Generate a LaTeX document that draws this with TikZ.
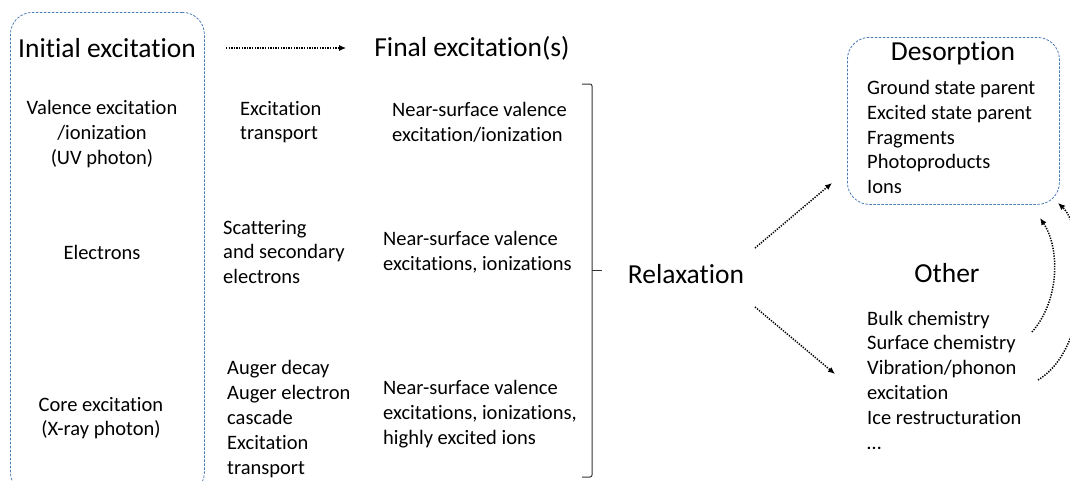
\documentclass[tikz,border=0pt]{standalone}
\usepackage{fontspec}
\setmainfont{Carlito}[RawFeature={-liga}]
\usetikzlibrary{arrows.meta}
\definecolor{boxblue}{RGB}{74,122,182}
\definecolor{brk}{RGB}{50,50,50}
\begin{document}
\begin{tikzpicture}[x=1pt,y=-1pt,
  txt/.style={inner sep=0pt, font=\fontsize{20.5}{24.8}\selectfont},
  ttl/.style={inner sep=0pt, font=\fontsize{27.5}{33}\selectfont},
  dbox/.style={draw=boxblue, dash pattern=on 2.5pt off 1.5pt, line width=0.8pt, rounded corners=22pt, inner sep=0pt},
  arr/.style={line width=1.5pt, dash pattern=on 1.3pt off 1.3pt, -{Latex[length=7pt,width=6pt]}},
]
\useasboundingbox (0,0) rectangle (1070,480);

% left box
\node[dbox, minimum width=194pt, minimum height=482pt, anchor=north west] (ibox) at (10,12) {};
\node[ttl] (ititle) at (107,48) {Initial excitation};
\node[txt, align=center] (valence) at (102,134) {Valence excitation\\/ionization\\(UV photon)};
\node[txt] (electrons) at (102,252) {Electrons};
\node[txt, align=center] (core) at (101,418) {Core excitation\\(X-ray photon)};

% final excitations
\node[ttl] (ftitle) at (472,48) {Final excitation(s)};
\draw[arr] ([xshift=30pt]ititle.east) -- ([xshift=-28pt]ftitle.west);

\node[txt, align=left, anchor=west] (trans) at (240,122) {Excitation\\transport};
\node[txt, align=left, anchor=west] (scat) at (223,252) {Scattering\\and secondary\\electrons};
\node[txt, align=left, anchor=west] (auger) at (227,419) {Auger decay\\Auger electron\\cascade\\Excitation\\transport};

\node[txt, align=left, anchor=west] (ns1) at (392,122) {Near-surface valence\\excitation/ionization};
\node[txt, align=left, anchor=west] (ns2) at (383,252) {Near-surface valence\\excitations, ionizations};
\node[txt, align=left, anchor=west] (ns3) at (383,414) {Near-surface valence\\excitations, ionizations,\\highly excited ions};

% bracket
\draw[brk, line width=1pt, rounded corners=2pt] (582,84) -- (592,84) -- (592,477) -- (582,477);
\draw[brk, line width=1pt] (592,270) -- (602,270);

\node[ttl] (relax) at (686,274) {Relaxation};

% desorption
\node[dbox, minimum width=212pt, minimum height=167pt, anchor=north west] (desbox) at (847,37) {};
\node[ttl] (destitle) at (953,53) {Desorption};
\node[txt, align=left, anchor=west] (desitems) at (867,137) {Ground state parent\\Excited state parent\\Fragments\\Photoproducts\\Ions};

% other
\node[ttl] (other) at (947,273) {Other};
\node[txt, align=left, anchor=west] (otheritems) at (867,380) {Bulk chemistry\\Surface chemistry\\Vibration/phonon\\excitation\\Ice restructuration\\…};

% arrows
\coordinate (a1s) at (755,248);
\coordinate (a1e) at (832,183);
\coordinate (a2s) at (755,307);
\coordinate (a2e) at (835,374);
\coordinate (c1s) at (1032,332);
\coordinate (c1e) at (1040,218);
\coordinate (c2s) at (1038,380);
\coordinate (c2e) at (1058,203);
\draw[arr] (a1s) -- (a1e);
\draw[arr] (a2s) -- (a2e);
\draw[arr] (c1s) .. controls (1060,300) and (1060,248) .. (c1e);
\draw[arr] (c2s) .. controls (1095,345) and (1085,228) .. (c2e);
\end{tikzpicture}
\end{document}
